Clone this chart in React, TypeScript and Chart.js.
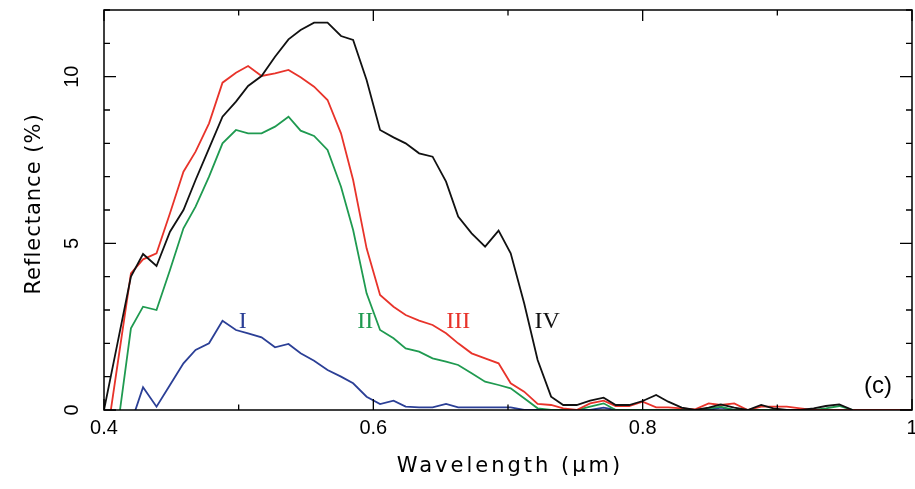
import React, { useEffect, useRef } from "react";
import { Chart, registerables } from "chart.js";

Chart.register(...registerables);

// Wavelength samples (µm)
const wavelength = [
  0.4, 0.41, 0.42, 0.429, 0.439, 0.449, 0.459, 0.468, 0.478, 0.488,
  0.498, 0.507, 0.517, 0.527, 0.537, 0.546, 0.556, 0.566, 0.576, 0.585,
  0.595, 0.605, 0.615, 0.624, 0.634, 0.644, 0.654, 0.663, 0.673, 0.683,
  0.693, 0.702, 0.712, 0.722, 0.732, 0.741, 0.751, 0.761, 0.771, 0.78,
  0.79, 0.8, 0.81, 0.819, 0.829, 0.839, 0.849, 0.858, 0.868, 0.878,
  0.888, 0.897, 0.907, 0.917, 0.927, 0.936, 0.946, 0.956, 0.966, 0.975,
  0.985, 0.995, 1.004,
];

// Reflectance (%) series
const seriesIV = [
  0, 2.0, 4.0, 4.68, 4.32, 5.35, 6.0, 6.9, 7.85, 8.8,
  9.25, 9.72, 10.02, 10.6, 11.12, 11.4, 11.62, 11.62, 11.22, 11.1,
  9.9, 8.4, 8.18, 8.0, 7.7, 7.6, 6.85, 5.8, 5.3, 4.9,
  5.38, 4.7, 3.2, 1.5, 0.4, 0.15, 0.15, 0.28, 0.37, 0.15,
  0.15, 0.27, 0.45, 0.25, 0.07, 0.0, 0.07, 0.17, 0.07, 0.0,
  0.15, 0.05, 0.0, 0.0, 0.05, 0.12, 0.17, 0.0, null, null,
  null, null, null,
];
const seriesIII = [
  -1.4, 1.35, 4.1, 4.52, 4.7, 5.9, 7.15, 7.75, 8.6, 9.82,
  10.12, 10.32, 10.02, 10.1, 10.2, 9.98, 9.7, 9.3, 8.3, 6.9,
  4.85, 3.45, 3.1, 2.85, 2.68, 2.55, 2.3, 2.0, 1.7, 1.55,
  1.4, 0.8, 0.55, 0.18, 0.15, 0.05, 0.0, 0.2, 0.28, 0.12,
  0.12, 0.25, 0.08, 0.08, 0.05, 0.02, 0.2, 0.15, 0.2, 0.0,
  0.1, 0.1, 0.1, 0.05, 0.0, 0.0, 0.0, 0.0, 0.0, 0.0,
  0.0, 0.0, 0.0,
];
const seriesII = [
  -3.6, -0.57, 2.45, 3.1, 3.0, 4.2, 5.45, 6.1, 7.0, 8.0,
  8.4, 8.3, 8.3, 8.5, 8.8, 8.38, 8.22, 7.8, 6.7, 5.4,
  3.5, 2.4, 2.15, 1.85, 1.75, 1.55, 1.45, 1.35, 1.1, 0.85,
  0.75, 0.65, 0.35, 0.05, 0.0, 0.0, 0.0, 0.1, 0.2, 0.0,
  0.0, 0.0, 0.0, 0.0, 0.0, 0.0, 0.05, 0.1, 0.0, 0.0,
  0.0, 0.0, 0.0, 0.0, 0.0, 0.05, 0.12, 0.0, null, null,
  null, null, null,
];
const seriesI = [
  -2.0, -1.0, -0.4, 0.68, 0.1, 0.75, 1.4, 1.8, 2.0, 2.68,
  2.4, 2.3, 2.18, 1.88, 1.98, 1.7, 1.48, 1.2, 1.0, 0.8,
  0.4, 0.18, 0.28, 0.1, 0.08, 0.08, 0.18, 0.08, 0.08, 0.08,
  0.08, 0.08, 0.0, 0.0, 0.0, 0.0, 0.0, 0.0, 0.07, 0.0,
  0.0, 0.0, 0.0, 0.0, 0.0, 0.0, 0.0, 0.07, 0.0, null,
  null, null, null, null, null, null, null, null, null, null,
  null, null, null,
];

const seriesNames = ["IV", "III", "II", "I"];
const seriesColors = ["#111111", "#e8332a", "#1f9a50", "#2b3f96"];

// Curve annotations (text, wavelength, reflectance)
const labelText = ["I", "II", "III", "IV"];
const labelX = [0.503, 0.594, 0.663, 0.729];
const labelY = [2.64, 2.64, 2.64, 2.64];
const labelColors = ["#2b3f96", "#1f9a50", "#e8332a", "#111111"];

// Axis ticks
const xTickValues = [0.4, 0.5, 0.6, 0.7, 0.8, 0.9, 1.0];
const xTickLabels = ["0.4", "", "0.6", "", "0.8", "", "1"];
const yTickValues = [0, 1, 2, 3, 4, 5, 6, 7, 8, 9, 10, 11, 12];
const yTickLabels = ["0", "", "", "", "", "5", "", "", "", "", "10", "", ""];

const xTitle = "Wavelength (\u03bcm)";
const yTitle = "Reflectance (%)";
const panelTag = "(c)";

const framePlugin = {
  id: "framePlugin",
  afterDraw(chart: any) {
    const { ctx, chartArea: a, scales } = chart;
    const xs = scales.x;
    const ys = scales.y;
    ctx.save();
    ctx.strokeStyle = "#000";
    ctx.lineWidth = 1.5;
    ctx.strokeRect(a.left, a.top, a.right - a.left, a.bottom - a.top);

    ctx.lineWidth = 1.3;
    xTickValues.forEach((v, i) => {
      const px = xs.getPixelForValue(v);
      const len = xTickLabels[i] ? 11 : 5.5;
      ctx.beginPath();
      ctx.moveTo(px, a.bottom);
      ctx.lineTo(px, a.bottom - len);
      ctx.moveTo(px, a.top);
      ctx.lineTo(px, a.top + len);
      ctx.stroke();
    });
    yTickValues.forEach((v, i) => {
      const py = ys.getPixelForValue(v);
      const len = yTickLabels[i] ? 12 : 6;
      ctx.beginPath();
      ctx.moveTo(a.left, py);
      ctx.lineTo(a.left + len, py);
      ctx.moveTo(a.right, py);
      ctx.lineTo(a.right - len, py);
      ctx.stroke();
    });

    // tick labels
    ctx.fillStyle = "#000";
    ctx.font = '20px "Liberation Sans", Arial, sans-serif';
    ctx.textAlign = "center";
    ctx.textBaseline = "middle";
    xTickValues.forEach((v, i) => {
      if (!xTickLabels[i]) return;
      ctx.fillText(xTickLabels[i], xs.getPixelForValue(v), a.bottom + 18);
    });
    yTickValues.forEach((v, i) => {
      if (!yTickLabels[i]) return;
      const py = ys.getPixelForValue(v);
      ctx.save();
      ctx.translate(a.left - 32, py);
      ctx.rotate(-Math.PI / 2);
      ctx.fillText(yTickLabels[i], 0, 0);
      ctx.restore();
    });

    // axis titles
    ctx.font = '21px "DejaVu Sans", sans-serif';
    (ctx as any).letterSpacing = "3px";
    ctx.fillText(xTitle, (a.left + a.right) / 2 + 2, a.bottom + 57);
    (ctx as any).letterSpacing = "1px";
    ctx.save();
    ctx.translate(a.left - 69, 204);
    ctx.rotate(-Math.PI / 2);
    ctx.fillText(yTitle, 0, 0);
    ctx.restore();
    (ctx as any).letterSpacing = "0px";

    // panel tag
    ctx.font = '24px "Liberation Sans", Arial, sans-serif';
    ctx.fillText(panelTag, a.right - 34, a.bottom - 24);

    // curve labels
    ctx.font = '24px "Liberation Serif", "DejaVu Serif", serif';
    labelText.forEach((t, i) => {
      ctx.fillStyle = labelColors[i];
      ctx.fillText(t, xs.getPixelForValue(labelX[i]), ys.getPixelForValue(labelY[i]));
    });
    ctx.restore();
  },
};

export default function App() {
  const canvasRef = useRef<HTMLCanvasElement | null>(null);

  useEffect(() => {
    document.body.style.margin = "0";
    const canvas = canvasRef.current;
    if (!canvas) return;
    const allSeries = [seriesIV, seriesIII, seriesII, seriesI];
    const chart = new Chart(canvas, {
      type: "line",
      data: {
        datasets: allSeries.map((s, i) => ({
          label: seriesNames[i],
          data: wavelength
            .map((w, k) => ({ x: w, y: s[k] }))
            .filter((p) => p.y !== null && p.y !== undefined),
          borderColor: seriesColors[i],
          backgroundColor: seriesColors[i],
          borderWidth: 1.8,
          pointRadius: 0,
          tension: 0,
          fill: false,
        })),
      },
      options: {
        animation: false,
        responsive: false,
        maintainAspectRatio: false,
        layout: { padding: { left: 104, right: 3, top: 10, bottom: 79 } },
        plugins: { legend: { display: false }, tooltip: { enabled: false } },
        scales: {
          x: { type: "linear", min: 0.4, max: 1.0, display: false },
          y: { type: "linear", min: 0, max: 12, display: false },
        },
      },
      plugins: [framePlugin],
    });
    return () => chart.destroy();
  }, []);

  return (
    <div style={{ width: 915, height: 489, background: "#fff" }}>
      <canvas ref={canvasRef} width={915} height={489} style={{ display: "block" }} />
    </div>
  );
}
